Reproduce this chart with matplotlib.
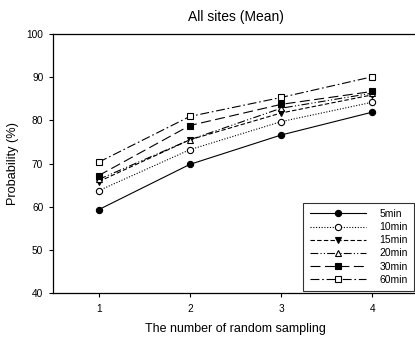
import matplotlib
matplotlib.use("Agg")
import matplotlib.pyplot as plt

plt.rcParams['font.family'] = ['Liberation Sans', 'DejaVu Sans']

# data
samplings = [1, 2, 3, 4]
p_5min = [59.3, 69.8, 76.6, 81.9]
p_10min = [63.7, 73.2, 79.7, 84.2]
p_15min = [65.8, 75.5, 81.7, 85.9]
p_20min = [66.3, 75.5, 82.8, 86.3]
p_30min = [67.2, 78.8, 83.7, 86.7]
p_60min = [70.3, 80.9, 85.3, 90.1]

series = [
    ('5min', p_5min, '-', 'o', 'black'),
    ('10min', p_10min, (0, (1, 1.5)), 'o', 'white'),
    ('15min', p_15min, (0, (4, 2)), 'v', 'black'),
    ('20min', p_20min, (0, (7, 2, 1, 2, 1, 2)), '^', 'white'),
    ('30min', p_30min, (0, (9, 4)), 's', 'black'),
    ('60min', p_60min, (0, (8, 2.5, 1.5, 2.5)), 's', 'white'),
]

fig = plt.figure(figsize=(4.15, 3.37), dpi=100)
ax = fig.add_axes([53 / 415, 44 / 337, 365 / 415, 259 / 337])

for name, vals, ls, mk, fc in series:
    ax.plot(samplings, vals, linestyle=ls, color='black', linewidth=0.8,
            marker=mk, markersize=4.5, markerfacecolor=fc,
            markeredgecolor='black', markeredgewidth=0.8, label=name)

ax.set_xlim(0.5, 4.5)
ax.set_ylim(40, 100)
ax.set_xticks(samplings)
ax.set_yticks(range(40, 101, 10))
ax.tick_params(direction='out', length=3, width=0.8, labelsize=7.3, pad=4)
ax.tick_params(axis='x', pad=5)
for sp in ax.spines.values():
    sp.set_linewidth(0.9)

ax.set_title('All sites (Mean)', fontsize=10, pad=9)
ax.set_xlabel('The number of random sampling', fontsize=9, labelpad=6.5)
ax.set_ylabel('Probability (%)', fontsize=9.2, labelpad=5)

leg = ax.legend(loc='lower right', bbox_to_anchor=(414 / 415, 46 / 337),
                bbox_transform=fig.transFigure, fontsize=7.5, frameon=True,
                fancybox=False, edgecolor='black', handlelength=5.4,
                handletextpad=1.3, labelspacing=0.3, borderpad=0.6,
                borderaxespad=0)
leg.get_frame().set_linewidth(0.8)

fig.savefig('out.png', dpi=100)
